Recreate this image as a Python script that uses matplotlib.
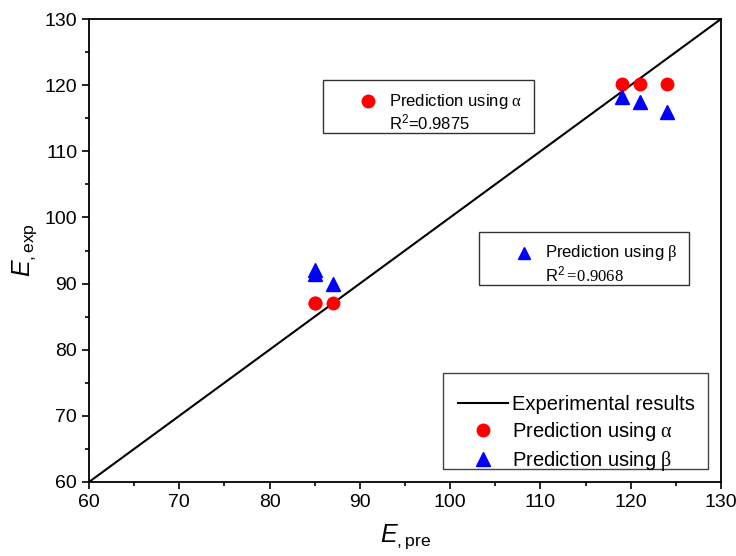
import numpy as np
import matplotlib
matplotlib.use("Agg")
import matplotlib.pyplot as plt
from matplotlib.patches import Rectangle

plt.rcParams["font.family"] = ["Liberation Sans", "DejaVu Sans"]
plt.rcParams["mathtext.fontset"] = "custom"
plt.rcParams["mathtext.rm"] = "Liberation Serif"
plt.rcParams["mathtext.it"] = "Liberation Sans:italic"
plt.rcParams["mathtext.sf"] = "Liberation Sans"

# data
line_xy = [60, 130]
alpha_x = [85, 85, 87, 119, 121, 124]
alpha_y = [87.0, 87.0, 87.0, 120.2, 120.2, 120.2]
beta_x = [85, 85, 87, 119, 121, 124]
beta_y = [92.0, 91.4, 89.9, 118.2, 117.4, 116.0]
r2_alpha = 0.9875
r2_beta = 0.9068

fig = plt.figure(figsize=(7.36, 5.56), dpi=100)
ax = fig.add_axes([0.1209, 0.1331, 0.8587, 0.8327])

ax.plot(line_xy, line_xy, color="black", lw=1.5, label="Experimental results")
ax.plot(alpha_x, alpha_y, "o", color="red", ms=9, ls="none",
        label=r"Prediction using $\mathrm{\alpha}$")
ax.plot(beta_x, beta_y, "^", color="blue", ms=9.5, ls="none",
        label=r"Prediction using $\mathrm{\beta}$")

ax.set_xlim(60, 130)
ax.set_ylim(60, 130)
ax.set_xticks(np.arange(60, 131, 10))
ax.set_yticks(np.arange(60, 131, 10))
ax.set_xticks(np.arange(65, 130, 10), minor=True)
ax.set_yticks(np.arange(65, 130, 10), minor=True)
ax.tick_params(which="major", direction="out", length=5, width=1.2, labelsize=14)
ax.tick_params(which="minor", direction="out", length=3, width=1.2)
for s in ax.spines.values():
    s.set_linewidth(1.3)

ax.set_xlabel(r"$E_{\mathsf{,pre}}$", fontsize=18, labelpad=8)
ax.set_ylabel(r"$E_{\mathsf{,exp}}$", fontsize=18, labelpad=4)

# main legend: frame drawn separately so the left padding matches
ax.add_patch(Rectangle((0.5601, 0.0281), 0.4193, 0.2073, transform=ax.transAxes,
                       fill=False, edgecolor="#444444", lw=1.0, zorder=3))
leg = ax.legend(loc="upper left", bbox_to_anchor=(0.5839, 0.188), fontsize=14.5,
                frameon=False, borderaxespad=0, borderpad=0,
                handlelength=2.5, handletextpad=0.2, labelspacing=0.3)

# annotation boxes with R^2
boxes = [
    (0.3703, 0.7538, 0.3339, 0.1145, "o", "red", r"Prediction using $\mathrm{\alpha}$",
     r"R$^{\mathsf{2}}$=" + f"{r2_alpha:.4f}"),
    (0.6171, 0.4254, 0.3323, 0.1145, "^", "blue", r"Prediction using $\mathrm{\beta}$",
     r"$\mathsf{R}^{\mathsf{2}}\mathrm{=}\!\mathrm{" + f"{r2_beta:.4f}" + "}$"),
]
for x0, y0, w, h, mk, col, t1, t2 in boxes:
    ax.add_patch(Rectangle((x0, y0), w, h, transform=ax.transAxes, fill=False,
                           edgecolor="#333333", lw=1.0, zorder=3))
    ax.plot([x0 + 0.0712], [y0 + h * 0.60], mk, color=col, ms=9,
            transform=ax.transAxes, clip_on=False, zorder=4)
    ax.text(x0 + 0.1044, y0 + h * 0.60, t1, transform=ax.transAxes,
            fontsize=12, va="center", ha="left")
    ax.text(x0 + 0.1044, y0 + h * 0.20, t2, transform=ax.transAxes,
            fontsize=12, va="center", ha="left")

fig.savefig("out.png", dpi=100)
